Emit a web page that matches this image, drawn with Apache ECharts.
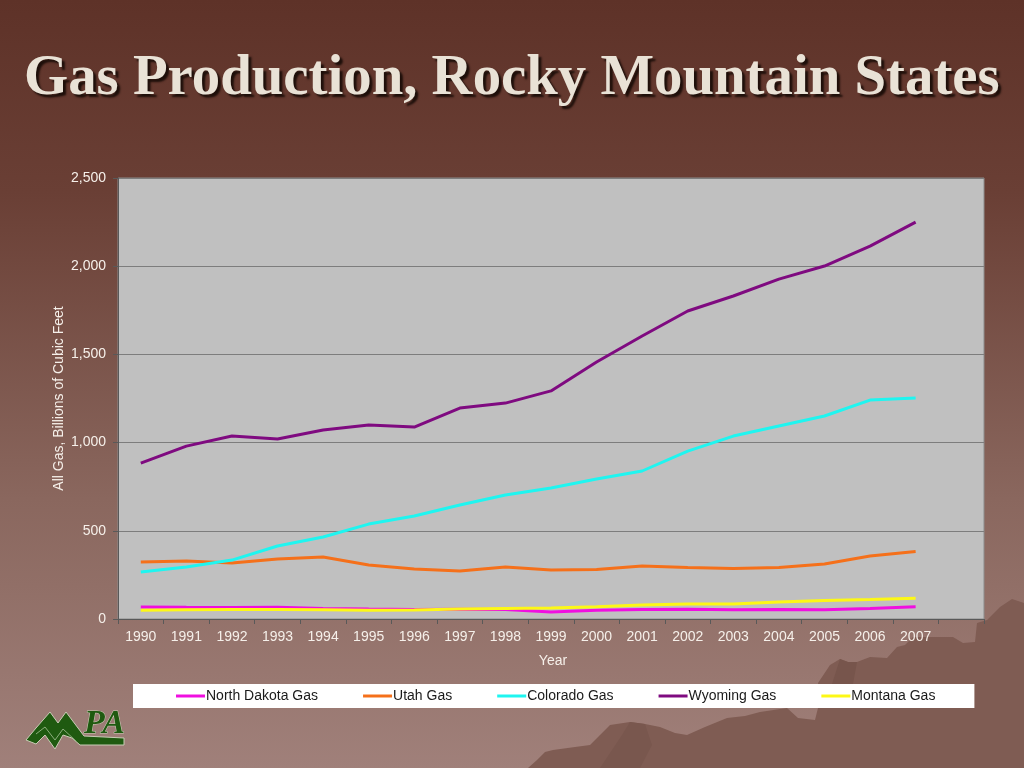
<!DOCTYPE html>
<html>
<head>
<meta charset="utf-8">
<style>html,body{margin:0;padding:0;background:#8a675e}#container{width:1024px;height:768px}</style>
<script src="https://cdn.jsdelivr.net/npm/echarts@6/dist/echarts.min.js"></script>
</head>
<body>
<div id="container"></div>
<script>
var years = ["1990","1991","1992","1993","1994","1995","1996","1997","1998","1999","2000","2001","2002","2003","2004","2005","2006","2007",""];
var northDakota = [68,66,65,66,60,56,54,55,54,40,50,54,55,53,54,53,60,70];
var utah = [323,329,317,340,351,306,283,272,295,278,281,300,292,286,292,312,357,383];
var colorado = [266,295,334,414,465,538,584,646,703,743,794,839,952,1037,1094,1151,1241,1253];
var wyoming = [884,980,1037,1020,1071,1100,1088,1196,1224,1293,1457,1604,1746,1831,1927,2001,2114,2250];
var montana = [50,52,54,54,52,50,51,56,60,62,70,80,85,85,97,105,110,118];

var textColor = "#f6f0ea";
var sansFont = "Liberation Sans";

var dom = document.getElementById("container");
var myChart = echarts.init(dom);

function lineSeries(name, color, data) {
  return {
    name: name,
    type: "line",
    symbol: "none",
    data: data,
    lineStyle: { color: color, width: 3 },
    itemStyle: { color: color }
  };
}

// backdrop decoration only: mountains and logo
var decoration = [
  {
    type: "polygon",
    z: 0,
    silent: true,
    shape: {
      points: [[528,768],[537,760],[545,752],[553,750],[575,747],[590,745],[600,735],[610,725],[630,722],[645,724],[660,727],[675,733],[687,735],[705,727],[727,718],[745,716],[760,712],[787,708],[798,718],[815,720],[820,700],[818,683],[830,665],[840,659],[848,662],[857,662],[870,657],[887,658],[897,647],[905,645],[913,637],[953,637],[963,643],[975,642],[977,623],[987,620],[1000,607],[1012,599],[1024,603],[1024,768]]
    },
    style: { fill: "#7f5c53" }
  },
  {
    type: "polygon",
    z: 0,
    silent: true,
    shape: { points: [[840,659],[848,662],[857,662],[853,684],[832,684]] },
    style: { fill: "#77554c" }
  },
  {
    type: "polygon",
    z: 0,
    silent: true,
    shape: { points: [[630,722],[645,724],[652,745],[640,768],[600,768],[622,735]] },
    style: { fill: "#79574e" }
  },
  {
    type: "polygon",
    z: 1,
    silent: true,
    shape: { points: [[26,740],[36,728],[50,712],[58,723],[66,712],[84,736],[124,738],[124,745],[80,745],[72,738],[63,735],[55,749],[45,735],[36,744]] },
    style: { fill: "#1f5a10", stroke: "#c9cdb6", lineWidth: 1 }
  },
  {
    type: "polyline",
    z: 1,
    silent: true,
    shape: { points: [[36,734],[45,727],[55,740],[63,729],[76,741]] },
    style: { fill: "none", stroke: "#8cae7c", lineWidth: 1 }
  },
  {
    type: "text",
    z: 1,
    silent: true,
    x: 84,
    y: 707,
    style: {
      text: "PA",
      fill: "#1f5a10",
      stroke: "#c9cdb6",
      lineWidth: 1,
      font: "italic bold 34px Liberation Serif"
    }
  }
];

var option = {
  backgroundColor: new echarts.graphic.LinearGradient(0, 0, 0, 1, [
    { offset: 0, color: "#5e3228" },
    { offset: 0.25, color: "#6a3f35" },
    { offset: 0.65, color: "#8a675e" },
    { offset: 1, color: "#a0807a" }
  ]),
  animation: false,
  title: {
    text: "Gas Production, Rocky Mountain States",
    left: 24,
    top: 51,
    padding: 0,
    textStyle: {
      fontFamily: "Liberation Serif",
      fontWeight: "bold",
      fontSize: 56.8,
      color: "#e9e2d6",
      textShadowColor: "#1e0f0a",
      textShadowBlur: 2,
      textShadowOffsetX: 3,
      textShadowOffsetY: 3
    }
  },
  grid: {
    left: 118,
    right: 40,
    top: 178,
    bottom: 149,
    show: true,
    backgroundColor: "#c0c0c0",
    borderColor: "#8c8c8c",
    borderWidth: 1
  },
  legend: {
    left: 133,
    top: 684,
    padding: [4, 39, 4, 43],
    itemGap: 45,
    itemWidth: 29,
    itemHeight: 3,
    icon: "rect",
    backgroundColor: "#ffffff",
    textStyle: { fontFamily: sansFont, fontSize: 14, lineHeight: 16, color: "#1a1a1a", padding: [0, 0, 0, -4] }
  },
  xAxis: {
    type: "category",
    data: years,
    name: "Year",
    nameLocation: "middle",
    nameGap: 35,
    nameMoveOverlap: false,
    nameTextStyle: { color: textColor, fontFamily: sansFont, fontSize: 14, padding: [0, 0, 0, 4] },
    axisLine: { onZero: false, lineStyle: { color: "#595959", width: 1 } },
    axisTick: { show: true, length: 5, alignWithLabel: false, lineStyle: { color: "#595959" } },
    axisLabel: { color: textColor, fontFamily: sansFont, fontSize: 14, margin: 11, interval: 0 }
  },
  yAxis: {
    type: "value",
    min: 0,
    max: 2500,
    interval: 500,
    name: "All Gas, Billions of Cubic Feet",
    nameLocation: "middle",
    nameGap: 52,
    nameMoveOverlap: false,
    nameTextStyle: { color: textColor, fontFamily: sansFont, fontSize: 14 },
    axisLine: { show: true, lineStyle: { color: "#595959", width: 1 } },
    axisTick: { show: true, length: 5, lineStyle: { color: "#595959" } },
    axisLabel: { color: textColor, fontFamily: sansFont, fontSize: 14, margin: 12 },
    splitLine: { show: true, lineStyle: { color: "#7d7d7d", width: 1 } }
  },
  graphic: decoration,
  series: [
    lineSeries("North Dakota Gas", "#f00fe0", northDakota),
    lineSeries("Utah Gas", "#f5701a", utah),
    lineSeries("Colorado Gas", "#1ff5f0", colorado),
    lineSeries("Wyoming Gas", "#7f0a80", wyoming),
    lineSeries("Montana Gas", "#fdf816", montana)
  ]
};

myChart.setOption(option);
</script>
</body>
</html>
